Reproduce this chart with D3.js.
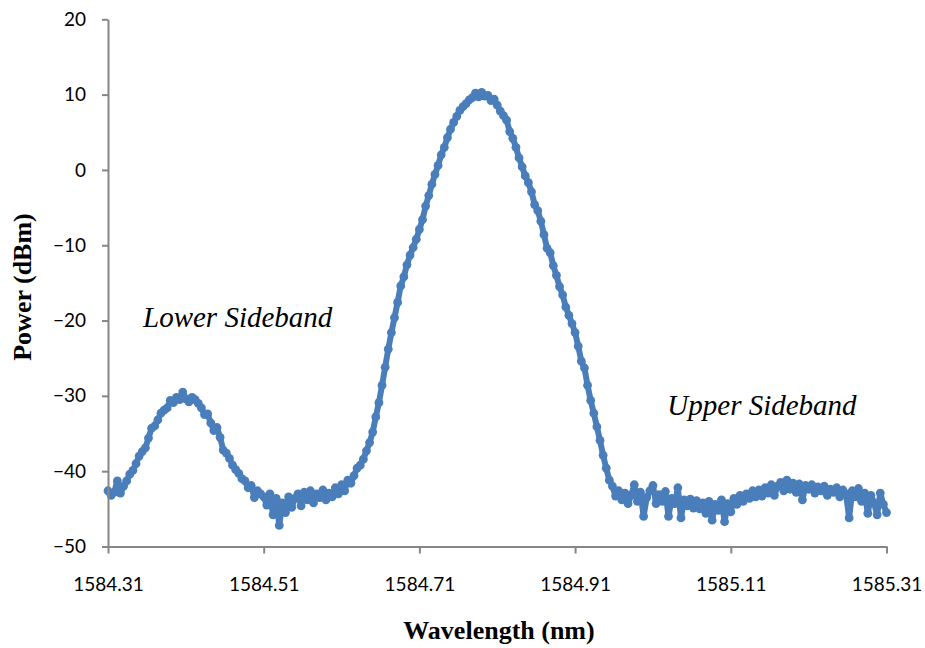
<!DOCTYPE html>
<html>
<head>
<meta charset="utf-8">
<script src="https://cdn.jsdelivr.net/npm/d3@7"></script>
<style>
  html, body { margin: 0; padding: 0; background: #fff; }
  svg { display: block; }
</style>
</head>
<body>
<svg id="chart" width="925" height="648"></svg>
<script>
// ---- data ----
const lambdaStart = 1584.31;   // nm, first sample
const lambdaStep = 0.004;      // nm, sampling interval
const power = [
  -42.6,-43.2,-42.8,-41.3,-42.9,-42.0,-41.3,-40.4,-39.9,-39.0,
  -38.0,-37.4,-36.9,-35.6,-34.3,-34.0,-33.2,-32.3,-31.9,-31.6,
  -30.6,-30.9,-30.2,-30.5,-29.5,-30.4,-30.8,-30.2,-30.5,-31.0,
  -31.6,-32.5,-32.4,-33.6,-34.6,-34.2,-35.5,-37.2,-37.6,-38.3,
  -39.2,-39.8,-40.3,-41.0,-41.3,-42.2,-41.9,-43.5,-42.6,-43.0,
  -43.4,-44.5,-43.0,-45.8,-43.6,-47.2,-44.2,-45.5,-43.4,-44.8,
  -43.6,-43.0,-44.6,-42.8,-43.8,-42.6,-44.2,-43.0,-43.5,-42.5,
  -43.8,-42.9,-43.4,-42.2,-43.0,-41.8,-42.6,-41.2,-41.6,-40.6,
  -39.6,-39.2,-38.4,-37.3,-36.2,-34.8,-32.8,-30.9,-28.6,-26.2,
  -23.8,-21.6,-19.6,-17.6,-15.4,-14.2,-12.6,-11.3,-10.3,-9.2,
  -7.9,-6.6,-4.8,-3.4,-1.9,-0.6,0.6,2.0,3.0,4.3,
  5.4,6.3,7.1,7.9,8.4,8.8,9.3,9.6,10.2,9.7,
  10.3,9.8,9.9,9.2,9.4,8.6,7.8,7.2,6.6,5.1,
  4.2,3.0,1.6,0.4,-0.8,-1.7,-2.9,-4.6,-5.4,-6.8,
  -8.6,-10.4,-11.0,-12.7,-14.0,-15.5,-16.6,-18.2,-19.3,-20.4,
  -21.6,-23.4,-25.4,-26.3,-28.6,-30.6,-32.3,-34.1,-35.9,-37.9,
  -39.6,-41.2,-42.0,-43.3,-42.6,-43.8,-42.9,-44.3,-43.2,-41.8,
  -44.0,-42.8,-46.0,-43.5,-42.6,-41.9,-44.3,-43.1,-44.0,-42.7,
  -46.0,-43.6,-44.3,-42.2,-46.2,-43.8,-44.6,-43.7,-44.9,-43.9,
  -45.0,-44.2,-45.6,-44.0,-46.5,-44.4,-45.2,-43.8,-46.7,-44.3,
  -45.4,-43.6,-44.4,-43.2,-44.0,-43.0,-43.6,-42.6,-43.4,-42.5,
  -43.3,-42.2,-42.9,-41.8,-43.2,-42.0,-41.5,-42.6,-41.2,-42.4,
  -41.6,-42.8,-41.7,-43.8,-41.9,-42.4,-41.8,-42.9,-42.1,-42.6,
  -42.0,-43.2,-42.4,-42.8,-42.2,-43.4,-42.5,-43.0,-46.2,-42.6,
  -43.4,-42.3,-44.0,-42.9,-45.6,-43.2,-44.2,-45.8,-42.9,-44.4,
  -45.5
];
const wavelengths = power.map((_, i) => +(lambdaStart + i * lambdaStep).toFixed(3));
const xTicks = [1584.31, 1584.51, 1584.71, 1584.91, 1585.11, 1585.31];
const yTicks = [-50, -40, -30, -20, -10, 0, 10, 20];
const annotations = [
  { text: "Lower Sideband", wl: 1584.355, p: -20.8 },
  { text: "Upper Sideband", wl: 1585.0285, p: -32.6 }
];

// ---- drawing ----
const svg = d3.select("#chart");
const x = d3.scaleLinear().domain([1584.31, 1585.31]).range([108, 886.5]);
const y = d3.scaleLinear().domain([-50, 20]).range([546.5, 19.3]);
const axisColor = "#868686";
const tickFont = "Lato, 'Open Sans', sans-serif";
const serif = "'Liberation Serif', 'Times New Roman', Times, serif";

const data = wavelengths.map((w, i) => ({ w, p: power[i] }));

// series
const color = "#4A7EBB";
svg.append("path")
  .datum(data)
  .attr("d", d3.line().x(d => x(d.w)).y(d => y(d.p)))
  .attr("fill", "none")
  .attr("stroke", color)
  .attr("stroke-width", 6)
  .attr("stroke-linejoin", "round")
  .attr("stroke-linecap", "round");
svg.append("g").selectAll("circle")
  .data(data)
  .join("circle")
  .attr("cx", d => x(d.w))
  .attr("cy", d => y(d.p))
  .attr("r", 4.4)
  .attr("fill", color);

// y axis
const yAxis = svg.append("g")
  .attr("transform", `translate(${x(1584.31)},0)`)
  .call(d3.axisLeft(y).tickValues(yTicks).tickSize(6).tickSizeOuter(0).tickPadding(16));
// x axis
const xAxis = svg.append("g")
  .attr("transform", `translate(0,${y(-50)})`)
  .call(d3.axisBottom(x).tickValues(xTicks).tickSize(7).tickSizeOuter(0)
        .tickFormat(d => d.toFixed(2)));

[yAxis, xAxis].forEach(g => {
  g.select(".domain").attr("stroke", axisColor).attr("stroke-width", 2);
  g.selectAll(".tick line").attr("stroke", axisColor).attr("stroke-width", 2);
  g.selectAll(".tick text")
    .attr("fill", "#000")
    .style("font-family", tickFont)
    .style("font-size", "19px");
});
xAxis.selectAll(".tick text").attr("y", 44.5).attr("dy", 0);

// axis titles
svg.append("text")
  .attr("x", 499).attr("y", 639)
  .attr("text-anchor", "middle")
  .style("font-family", serif)
  .style("font-weight", "bold")
  .style("font-size", "26px")
  .text("Wavelength (nm)");
svg.append("text")
  .attr("transform", "translate(31,287) rotate(-90)")
  .attr("text-anchor", "middle")
  .style("font-family", serif)
  .style("font-weight", "bold")
  .style("font-size", "26px")
  .text("Power (dBm)");

// annotations
svg.append("g").selectAll("text")
  .data(annotations)
  .join("text")
  .attr("x", d => x(d.wl))
  .attr("y", d => y(d.p))
  .style("font-family", serif)
  .style("font-style", "italic")
  .style("font-size", "29px")
  .text(d => d.text);
</script>
</body>
</html>
